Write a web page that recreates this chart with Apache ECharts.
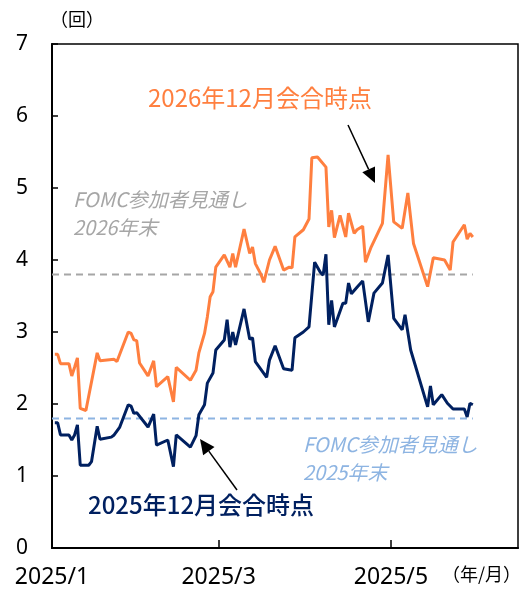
<!DOCTYPE html>
<html>
<head>
<meta charset="utf-8">
<script src="https://cdn.jsdelivr.net/npm/echarts@6.0.0/dist/echarts.min.js"></script>
<style>
html,body{margin:0;padding:0;background:#fff;}
#chart{width:523px;height:592px;}
</style>
</head>
<body>
<div id="chart"></div>
<script>
// 2026年12月会合時点（回）
var dates26 = ['2025-01-02','2025-01-03','2025-01-04','2025-01-07','2025-01-08','2025-01-09','2025-01-10','2025-01-11','2025-01-13','2025-01-17',
  '2025-01-18','2025-01-23','2025-01-24','2025-01-28','2025-01-29','2025-01-30','2025-01-31','2025-02-01','2025-02-04','2025-02-06',
  '2025-02-07','2025-02-11','2025-02-13','2025-02-14','2025-02-19','2025-02-21','2025-02-22','2025-02-24','2025-02-25','2025-02-26',
  '2025-02-27','2025-02-28','2025-03-03','2025-03-05','2025-03-06','2025-03-07','2025-03-10','2025-03-12','2025-03-13','2025-03-14',
  '2025-03-16','2025-03-17','2025-03-19','2025-03-21','2025-03-24','2025-03-26','2025-03-27','2025-03-28','2025-03-31','2025-04-02',
  '2025-04-03','2025-04-05','2025-04-08','2025-04-09','2025-04-10','2025-04-11','2025-04-13','2025-04-15','2025-04-16','2025-04-18',
  '2025-04-19','2025-04-21','2025-04-22','2025-04-24','2025-04-28','2025-04-30','2025-05-02','2025-05-05','2025-05-07','2025-05-09',
  '2025-05-14','2025-05-16','2025-05-20','2025-05-22','2025-05-23','2025-05-27','2025-05-28','2025-05-29','2025-05-30'];
var rate26 = [2.69,2.69,2.56,2.56,2.39,2.51,2.64,1.94,1.91,2.71,
  2.60,2.62,2.59,3.00,2.98,2.89,2.88,2.57,2.39,2.60,
  2.24,2.38,2.03,2.51,2.33,2.47,2.71,2.98,3.21,3.49,
  3.56,3.90,4.07,3.90,4.09,3.90,4.43,4.09,4.18,3.95,
  3.80,3.69,4.00,4.19,3.86,3.90,3.89,4.32,4.42,4.57,
  5.42,5.43,5.29,4.46,4.69,4.31,4.62,4.32,4.65,4.37,
  4.42,4.47,3.97,4.18,4.51,5.46,4.53,4.44,4.93,4.23,
  3.63,4.03,4.00,3.86,4.25,4.49,4.29,4.37,4.32];

// 2025年12月会合時点（回）
var dates25 = ['2025-01-02','2025-01-03','2025-01-04','2025-01-07','2025-01-08','2025-01-09','2025-01-10','2025-01-11','2025-01-14','2025-01-15',
  '2025-01-17','2025-01-18','2025-01-22','2025-01-23','2025-01-25','2025-01-28','2025-01-29','2025-01-30','2025-01-31','2025-02-04',
  '2025-02-06','2025-02-07','2025-02-11','2025-02-13','2025-02-14','2025-02-19','2025-02-21','2025-02-22','2025-02-24','2025-02-25',
  '2025-02-27','2025-02-28','2025-03-03','2025-03-04','2025-03-05','2025-03-06','2025-03-07','2025-03-10','2025-03-12','2025-03-13',
  '2025-03-14','2025-03-18','2025-03-19','2025-03-21','2025-03-24','2025-03-27','2025-03-28','2025-03-31','2025-04-02','2025-04-04',
  '2025-04-06','2025-04-07','2025-04-08','2025-04-09','2025-04-10','2025-04-11','2025-04-14','2025-04-15','2025-04-16','2025-04-17',
  '2025-04-19','2025-04-21','2025-04-23','2025-04-25','2025-04-28','2025-04-30','2025-05-02','2025-05-05','2025-05-06','2025-05-08',
  '2025-05-14','2025-05-15','2025-05-16','2025-05-19','2025-05-21','2025-05-23','2025-05-27','2025-05-28','2025-05-29','2025-05-30'];
var rate25 = [1.74,1.74,1.57,1.57,1.50,1.57,1.71,1.15,1.15,1.20,
  1.69,1.51,1.54,1.57,1.68,1.99,1.97,1.87,1.88,1.68,
  1.86,1.43,1.50,1.13,1.57,1.40,1.56,1.85,1.99,2.29,
  2.43,2.75,2.89,3.17,2.79,3.00,2.82,3.32,2.90,2.92,
  2.59,2.37,2.61,2.81,2.49,2.47,2.92,3.00,3.07,3.97,
  3.83,3.79,4.08,3.10,3.44,3.07,3.40,3.40,3.68,3.53,
  3.62,3.71,3.14,3.54,3.68,4.07,3.19,3.03,3.24,2.75,
  1.96,2.25,1.99,2.13,2.01,1.93,1.93,1.82,2.01,1.99];

// FOMC参加者見通し
var fomcDates = ['2025-01-01','2025-05-30'];
var fomc2026 = 3.8;
var fomc2025 = 1.8;

// 目盛
var labelMonths = ['2025-01-01','2025-03-01','2025-05-01'];
var xMin = '2025-01-01', xMax = '2025-06-15';

var ORANGE = '#FF7F3F', NAVY = '#002060', GRAY = '#A6A6A6', LBLUE = '#8DB4E2';
var CJK = '"Noto Sans CJK JP", "Noto Sans", sans-serif';

function ts(s){ return new Date(s + 'T00:00:00').getTime(); }
function pairs(d, v){
    return d.map(function(x, i){ return [ts(x), v[i]]; });
}
function flat(d, v){
    return d.map(function(x){ return [ts(x), v]; });
}

/*矢印（注記用）*/
function arrow(x1, y1, x2, y2){
    var dx = x2 - x1, dy = y2 - y1, len = Math.sqrt(dx*dx + dy*dy);
    var ux = dx/len, uy = dy/len, hl = 15, hw = 7;
    var bx = x2 - ux*hl, by = y2 - uy*hl;
    return [{
        type: 'line', z: 100,
        shape: {x1: x1, y1: y1, x2: bx, y2: by},
        style: {stroke: '#000', lineWidth: 1.5}
    }, {
        type: 'polygon', z: 100,
        shape: {points: [[x2, y2], [bx - uy*hw, by + ux*hw], [bx + uy*hw, by - ux*hw]]},
        style: {fill: '#000'}
    }];
}

var chart = echarts.init(document.getElementById('chart'));
var option = {
    animation: false,
    grid: {left: 52, top: 44, right: 5, bottom: 44, show: true, borderColor: '#000', borderWidth: 1.5},
    xAxis: {
        type: 'value', min: ts(xMin), max: ts(xMax),
        splitLine: {show: false},
        axisLine: {lineStyle: {color: '#000', width: 2}},
        axisTick: {inside: true, length: 8, lineStyle: {color: '#000', width: 1.5},
            customValues: labelMonths.map(ts)},
        axisLabel: {
            customValues: labelMonths.map(ts),
            fontSize: 23, color: '#000', margin: 18, fontFamily: '"Noto Sans", sans-serif',
            formatter: function(v){ var d = new Date(v); return d.getFullYear() + '/' + (d.getMonth() + 1); }
        }
    },
    yAxis: {
        type: 'value', min: 0, max: 7, interval: 1,
        splitLine: {show: false},
        axisLine: {show: true, lineStyle: {color: '#000', width: 2}},
        axisTick: {show: true, inside: true, length: 6, lineStyle: {color: '#000', width: 1.5}},
        axisLabel: {fontSize: 21, color: '#000', margin: 24, fontFamily: '"Noto Sans", sans-serif'}
    },
    series: [{
        type: 'line', data: flat(fomcDates, fomc2026), showSymbol: false,
        lineStyle: {color: GRAY, width: 2, type: [7, 5]}
    }, {
        type: 'line', data: flat(fomcDates, fomc2025), showSymbol: false,
        lineStyle: {color: LBLUE, width: 2, type: [7, 5]}
    }, {
        type: 'line', data: pairs(dates26, rate26), showSymbol: false,
        lineStyle: {color: ORANGE, width: 3}
    }, {
        type: 'line', data: pairs(dates25, rate25), showSymbol: false,
        lineStyle: {color: NAVY, width: 3}
    }],
    graphic: [
        {type: 'text', left: 50, top: 10, style: {text: '（回）', fontSize: 18, fontFamily: CJK, fill: '#000'}},
        {type: 'text', left: 442, top: 565, style: {text: '（年/月）', fontSize: 18, fontFamily: CJK, fill: '#000'}},
        {type: 'text', left: 148, top: 86, style: {text: '2026年12月会合時点', fontSize: 24, fontFamily: CJK, fill: ORANGE}},
        {type: 'text', left: 88, top: 493, style: {text: '2025年12月会合時点', fontSize: 24, fontFamily: CJK, fill: NAVY, fontWeight: 500}},
        {type: 'text', left: 73, top: 185, style: {text: 'FOMC参加者見通し\n2026年末', fontSize: 20, lineHeight: 28,
            fontStyle: 'italic', fontFamily: CJK, fill: GRAY}},
        {type: 'text', left: 303, top: 430, style: {text: 'FOMC参加者見通し\n2025年末', fontSize: 20, lineHeight: 28,
            fontStyle: 'italic', fontFamily: CJK, fill: LBLUE}}
    ].concat(arrow(348, 125, 375, 183), arrow(237, 490, 200, 439))
};
chart.setOption(option);
</script>
</body>
</html>
